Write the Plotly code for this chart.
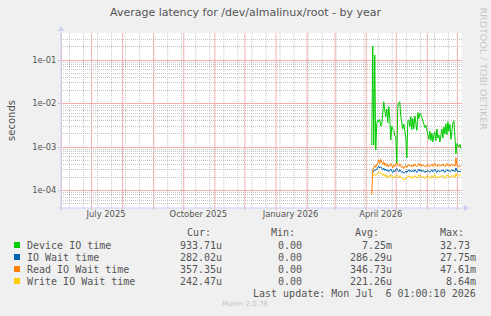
import plotly.graph_objects as go
import pandas as pd

# ---------------- data ----------------
start_date = "2026-04-07"          # first daily sample
# daily averages, in milliseconds
device_io_ms = [
    1.1, 210, 1.1, 130, 0.85, 3.5, 4.2, 3.8, 4.3, 3.0,
    3.3, 6.5, 11, 7.0, 5.0, 7.5, 3.6, 8.5, 4.5, 1.45,
    3.0, 2.6, 2.4, 1.8, 1.7, 0.42, 8.5, 10.5, 11, 5.0,
    3.0, 2.6, 3.4, 2.0, 1.6, 0.56, 4.0, 4.2, 2.9, 5.0,
    2.5, 4.5, 2.6, 5.2, 3.0, 2.4, 6.2, 4.5, 6.0, 5.6,
    4.8, 4.0, 3.5, 2.8, 3.2, 2.5, 2.2, 1.5, 2.3, 1.4,
    2.1, 1.3, 1.9, 2.2, 1.4, 2.6, 1.6, 1.9, 1.3, 2.1,
    2.6, 1.6, 2.9, 2.0, 3.4, 1.9, 3.8, 2.3, 3.3, 1.5,
    2.6, 3.6, 4.0, 1.2, 0.7, 1.2, 1.1, 1.0, 1.15, 0.93,
]
io_wait_ms = [
    0.27, 0.26, 0.28, 0.30, 0.29, 0.31, 0.34, 0.36, 0.33, 0.35,
    0.32, 0.30, 0.33, 0.29, 0.31, 0.28, 0.30, 0.27, 0.29, 0.31,
    0.28, 0.26, 0.29, 0.27, 0.30, 0.32, 0.29, 0.27, 0.30, 0.28,
    0.26, 0.27, 0.25, 0.26, 0.28, 0.26, 0.28, 0.30, 0.27, 0.29,
    0.27, 0.29, 0.27, 0.30, 0.28, 0.26, 0.28, 0.31, 0.28, 0.30,
    0.27, 0.29, 0.28, 0.26, 0.28, 0.27, 0.29, 0.28, 0.26, 0.28,
    0.30, 0.27, 0.29, 0.31, 0.28, 0.26, 0.29, 0.28, 0.27, 0.29,
    0.28, 0.30, 0.28, 0.26, 0.29, 0.30, 0.28, 0.29, 0.27, 0.28,
    0.30, 0.28, 0.29, 0.27, 0.33, 0.28, 0.27, 0.28, 0.27, 0.282,
]
read_wait_ms = [
    0.08, 0.30, 0.33, 0.38, 0.34, 0.40, 0.45, 0.50, 0.42, 0.52,
    0.44, 0.40, 0.46, 0.38, 0.42, 0.36, 0.40, 0.35, 0.38, 0.42,
    0.37, 0.33, 0.39, 0.36, 0.40, 0.44, 0.38, 0.36, 0.41, 0.37,
    0.34, 0.36, 0.32, 0.35, 0.38, 0.34, 0.37, 0.40, 0.36, 0.38,
    0.35, 0.39, 0.36, 0.41, 0.37, 0.35, 0.38, 0.42, 0.37, 0.40,
    0.36, 0.39, 0.37, 0.35, 0.38, 0.36, 0.40, 0.37, 0.35, 0.38,
    0.41, 0.36, 0.39, 0.43, 0.37, 0.35, 0.40, 0.38, 0.36, 0.39,
    0.37, 0.41, 0.38, 0.35, 0.39, 0.42, 0.37, 0.40, 0.36, 0.38,
    0.41, 0.37, 0.39, 0.36, 0.56, 0.38, 0.35, 0.37, 0.36, 0.357,
]
write_wait_ms = [
    0.22, 0.21, 0.23, 0.24, 0.22, 0.24, 0.26, 0.27, 0.25, 0.26,
    0.24, 0.22, 0.24, 0.21, 0.23, 0.20, 0.22, 0.20, 0.21, 0.23,
    0.21, 0.19, 0.21, 0.20, 0.22, 0.23, 0.21, 0.20, 0.22, 0.20,
    0.19, 0.19, 0.175, 0.18, 0.20, 0.19, 0.20, 0.22, 0.20, 0.21,
    0.19, 0.21, 0.20, 0.22, 0.21, 0.19, 0.20, 0.23, 0.21, 0.22,
    0.20, 0.21, 0.20, 0.19, 0.21, 0.20, 0.22, 0.21, 0.19, 0.21,
    0.22, 0.20, 0.21, 0.23, 0.20, 0.19, 0.21, 0.20, 0.20, 0.22,
    0.21, 0.22, 0.21, 0.19, 0.21, 0.23, 0.21, 0.22, 0.20, 0.21,
    0.22, 0.21, 0.22, 0.20, 0.25, 0.22, 0.21, 0.22, 0.23, 0.242,
]

series_names = ["Device IO time", "IO Wait time", "Read IO Wait time", "Write IO Wait time"]
series_colors = ["#00CC00", "#0066B3", "#FF8000", "#FFCC00"]
col_headers = ["Cur:", "Min:", "Avg:", "Max:"]
cur_vals = ["933.71u", "282.02u", "357.35u", "242.47u"]
min_vals = ["0.00", "0.00", "0.00", "0.00"]
avg_vals = ["7.25m", "286.29u", "346.73u", "221.26u"]
max_vals = ["32.73", "27.75m", "47.61m", "8.64m"]

x_label_dates = ["2025-07-16", "2025-10-16", "2026-01-16", "2026-04-16"]
x_label_text = ["July 2025", "October 2025", "January 2026", "April 2026"]
y_tick_vals = [1e-4, 1e-3, 1e-2, 1e-1]
y_tick_text = ["1e-04", "1e-03", "1e-02", "1e-01"]
x_range = ["2025-06-01 01:00", "2026-07-06 01:00"]
title_text = "Average latency for /dev/almalinux/root - by year"
last_update = "Last update: Mon Jul  6 01:00:10 2026"
version_text = "Munin 2.0.76"

# ---------------- layout geometry (pixels) ----------------
W, H = 491, 316
L, R, T, B = 61, 462, 33, 208

def px(x):
    return (x - L) / (R - L)

def py(y):
    return (B - y) / (B - T)

TEXT = "#555555"
MONO = "DejaVu Sans Mono"
SANS = "DejaVu Sans"
RED_GRID = "#F5AFAF"
GRAY_GRID = "#C4C4C4"
AXIS = "#c9d0f5"
DOT = "1px,1px"

# grid positions (monthly major, fortnightly minor)
month_grid = [d.strftime("%Y-%m-%d 12:00") for d in pd.date_range("2025-06-01", "2026-07-06", freq="MS")]
fortnight_grid = [d.strftime("%Y-%m-%d 12:00") for d in pd.date_range("2025-06-09", "2026-07-06", freq="14D")]
y_minor = [m * 10.0 ** e for e in range(-5, 1) for m in range(2, 10)]

fig = go.Figure()
all_series = [device_io_ms, io_wait_ms, read_wait_ms, write_wait_ms]
for name, color, vals in zip(series_names, series_colors, all_series):
    dates = pd.date_range(start_date, periods=len(vals), freq="D")
    fig.add_trace(go.Scatter(
        x=dates, y=[v / 1000.0 for v in vals], mode="lines", name=name,
        line=dict(color=color, width=1), showlegend=False, hoverinfo="skip",
    ))

fig.update_layout(
    width=W, height=H,
    margin=dict(l=L, r=W - R, t=T, b=H - B, pad=0),
    paper_bgcolor="#F0F0F0", plot_bgcolor="#FFFFFF",
    showlegend=False,
    title=dict(text=title_text, x=0.5, xref="container", xanchor="center",
               y=1 - 12 / H, yref="container", yanchor="middle",
               font=dict(family=SANS, size=11, color=TEXT)),
    xaxis=dict(
        type="date", range=x_range,
        tickmode="array", tickvals=x_label_dates, ticktext=x_label_text,
        tickfont=dict(family=SANS, size=8.4, color=TEXT),
        showgrid=False, ticks="", showline=False, zeroline=False,
    ),
    yaxis=dict(
        type="log", range=[-4.402, -0.379],
        tickmode="array", tickvals=y_tick_vals, ticktext=y_tick_text,
        tickfont=dict(family=SANS, size=8.4, color=TEXT),
        showgrid=True, gridcolor=RED_GRID, griddash="solid", gridwidth=1,
        ticks="outside", ticklen=2, tickcolor=GRAY_GRID,
        showline=False, zeroline=False,
        title=dict(text="seconds", font=dict(family=SANS, size=10, color=TEXT), standoff=14),
        minor=dict(tickmode="array", tickvals=y_minor, showgrid=True, gridcolor=GRAY_GRID,
                   griddash=DOT, ticks=""),
    ),
)

shapes = []
# vertical grid: fortnightly gray dotted, monthly light red
for d in fortnight_grid:
    shapes.append(dict(type="line", xref="x", yref="paper", x0=d, x1=d, y0=0, y1=1,
                       layer="between", line=dict(color=GRAY_GRID, width=1, dash=DOT)))
for d in month_grid:
    shapes.append(dict(type="line", xref="x", yref="paper", x0=d, x1=d, y0=-0.012, y1=1,
                       layer="between", line=dict(color=RED_GRID, width=1, dash="solid")))
# axes with arrows
shapes.append(dict(type="line", xref="paper", yref="paper", x0=px(61), x1=px(61),
                   y0=py(211), y1=py(30), line=dict(color=AXIS, width=1)))
shapes.append(dict(type="line", xref="paper", yref="paper", x0=px(58), x1=px(466),
                   y0=py(208), y1=py(208), line=dict(color=AXIS, width=1)))
shapes.append(dict(type="path", xref="paper", yref="paper",
                   path=f"M {px(58)} {py(31)} L {px(64)} {py(31)} L {px(61)} {py(26)} Z",
                   fillcolor=AXIS, line=dict(color=AXIS, width=0)))
shapes.append(dict(type="path", xref="paper", yref="paper",
                   path=f"M {px(464)} {py(205)} L {px(464)} {py(211)} L {px(469)} {py(208)} Z",
                   fillcolor=AXIS, line=dict(color=AXIS, width=0)))

annotations = []
# right vertical credit text
annotations.append(dict(text="RRDTOOL / TOBI OETIKER", xref="paper", yref="paper",
                        x=px(483), y=py(5), xanchor="center", yanchor="top",
                        textangle=90, showarrow=False,
                        font=dict(family=SANS, size=9.5, color="#C8C8C8")))

# legend table
row_y = [245, 257, 269, 281]
col_end = [223, 309, 393, 477]
hdr_end = [212, 296, 380, 465]
char_w = 6.0
for hx, h in zip(hdr_end, col_headers):
    annotations.append(dict(text=h, xref="paper", yref="paper", x=px(hx), y=py(232),
                            xanchor="right", yanchor="middle", showarrow=False, borderpad=0,
                            font=dict(family=MONO, size=10, color=TEXT)))
columns = [cur_vals, min_vals, avg_vals, max_vals]
for i, (name, color) in enumerate(zip(series_names, series_colors)):
    yy = row_y[i]
    shapes.append(dict(type="rect", xref="paper", yref="paper",
                       x0=px(14), x1=px(20), y0=py(yy + 3), y1=py(yy - 3),
                       fillcolor=color, line=dict(width=0)))
    annotations.append(dict(text=name, xref="paper", yref="paper", x=px(26), y=py(yy),
                            xanchor="left", yanchor="middle", showarrow=False, borderpad=0,
                            font=dict(family=MONO, size=10, color=TEXT)))
    for c, col in enumerate(columns):
        s = col[i]
        right = col_end[c] - (char_w if s[-1].isdigit() else 0)
        annotations.append(dict(text=s, xref="paper", yref="paper", x=px(right), y=py(yy),
                                xanchor="right", yanchor="middle", showarrow=False, borderpad=0,
                                font=dict(family=MONO, size=10, color=TEXT)))
annotations.append(dict(text=last_update.replace(" ", "&nbsp;"), xref="paper", yref="paper",
                        x=px(477), y=py(293), xanchor="right", yanchor="middle",
                        showarrow=False, borderpad=0,
                        font=dict(family=MONO, size=10, color=TEXT)))
annotations.append(dict(text=version_text, xref="paper", yref="paper",
                        x=px(245), y=py(304), xanchor="center", yanchor="middle",
                        showarrow=False, borderpad=0,
                        font=dict(family=SANS, size=7, color="#C4C4C4")))

fig.update_layout(shapes=shapes, annotations=annotations)
fig.write_html("out.html", config={"displayModeBar": False})
